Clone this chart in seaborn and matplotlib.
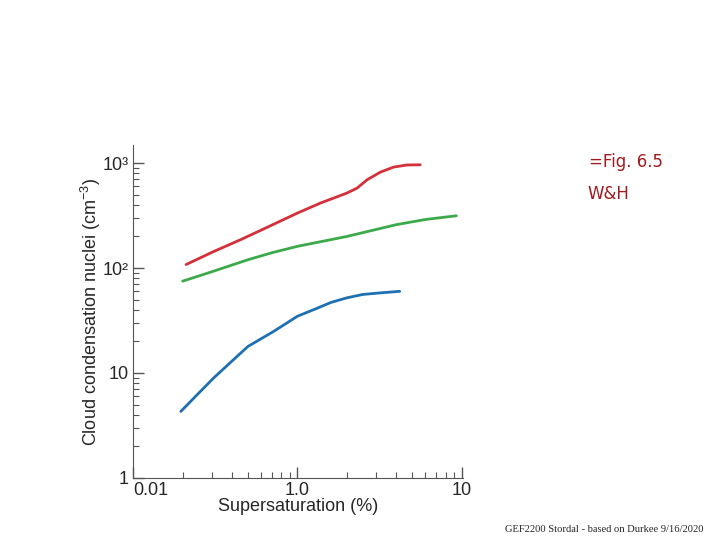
import numpy as np
import pandas as pd
import seaborn as sns
import matplotlib.pyplot as plt
from matplotlib.ticker import FixedLocator, LogLocator, NullFormatter

# values (supersaturation %, CCN per cm3)
red_s = [0.21, 0.31, 0.45, 0.66, 1.0, 1.38, 2.0, 2.31, 2.66, 3.2, 3.85, 4.64, 5.6]
red_n = [108, 144, 186, 246, 334, 416, 518, 578, 694, 820, 916, 960, 964]
green_s = [0.20, 0.30, 0.50, 0.70, 1.0, 2.0, 4.0, 6.0, 9.3]
green_n = [75, 92, 120, 140, 161, 200, 259, 290, 315]
blue_s = [0.195, 0.25, 0.31, 0.40, 0.50, 0.72, 1.0, 1.3, 1.6, 2.0, 2.5, 3.2, 4.2]
blue_n = [4.3, 6.4, 9.0, 13.0, 17.9, 25, 34.7, 41, 47, 52, 56, 58, 60]

sns.set_style("ticks")
plt.rcParams['font.family'] = ['Liberation Sans', 'DejaVu Sans']
plt.rcParams['mathtext.fontset'] = 'custom'
plt.rcParams['mathtext.rm'] = 'Liberation Sans'
plt.rcParams['mathtext.it'] = 'Liberation Sans'

df = pd.concat([
    pd.DataFrame({'s': red_s, 'n': red_n, 'typ': 'red'}),
    pd.DataFrame({'s': green_s, 'n': green_n, 'typ': 'green'}),
    pd.DataFrame({'s': blue_s, 'n': blue_n, 'typ': 'blue'}),
])

fig = plt.figure(figsize=(7.2, 5.4), dpi=100)
ax = fig.add_axes([0.185, 0.115, 0.458, 0.616])
sns.lineplot(data=df, x='s', y='n', hue='typ', sort=False, estimator=None,
             palette={'red': '#d4303a', 'green': '#3caa4a', 'blue': '#1f70b2'},
             linewidth=2.0, legend=False, ax=ax)
ax.set_xscale('log')
ax.set_yscale('log')
ax.set_xlim(0.1, 10.2)
ax.set_ylim(1, 1480)

ax.xaxis.set_major_locator(FixedLocator([0.1, 1.0, 10]))
ax.set_xticklabels(['0.01', '1.0', '10'])
ax.get_xticklabels()[0].set_horizontalalignment('left')
ax.xaxis.set_minor_locator(LogLocator(base=10, subs=np.arange(2, 10)))
ax.xaxis.set_minor_formatter(NullFormatter())
ax.yaxis.set_major_locator(FixedLocator([1, 10, 100, 1000]))
ax.set_yticklabels(['1', '10', '10²', '10³'])
ax.yaxis.set_minor_locator(LogLocator(base=10, subs=np.arange(2, 10)))
ax.yaxis.set_minor_formatter(NullFormatter())

ax.tick_params(which='major', direction='in', length=8, width=1, labelsize=13,
               color='#555555', pad=3)
ax.tick_params(which='minor', direction='in', length=4, width=0.8, color='#555555')
for side in ['top', 'right']:
    ax.spines[side].set_visible(False)
for side in ['left', 'bottom']:
    ax.spines[side].set_color('#555555')

ax.set_xlabel('Supersaturation (%)', fontsize=13, labelpad=-1)
ax.set_ylabel(r'Cloud condensation nuclei (cm$^{-3}$)', fontsize=13, labelpad=0)

fig.text(0.818, 0.690, '=Fig. 6.5', color='#a01a20', fontsize=12, family='DejaVu Sans')
fig.text(0.816, 0.632, 'W&H', color='#a01a20', fontsize=12, family='DejaVu Sans')
fig.text(0.701, 0.015, 'GEF2200 Stordal - based on Durkee 9/16/2020', fontsize=7.6,
         family='Liberation Serif')

fig.savefig('out.png', dpi=100)
